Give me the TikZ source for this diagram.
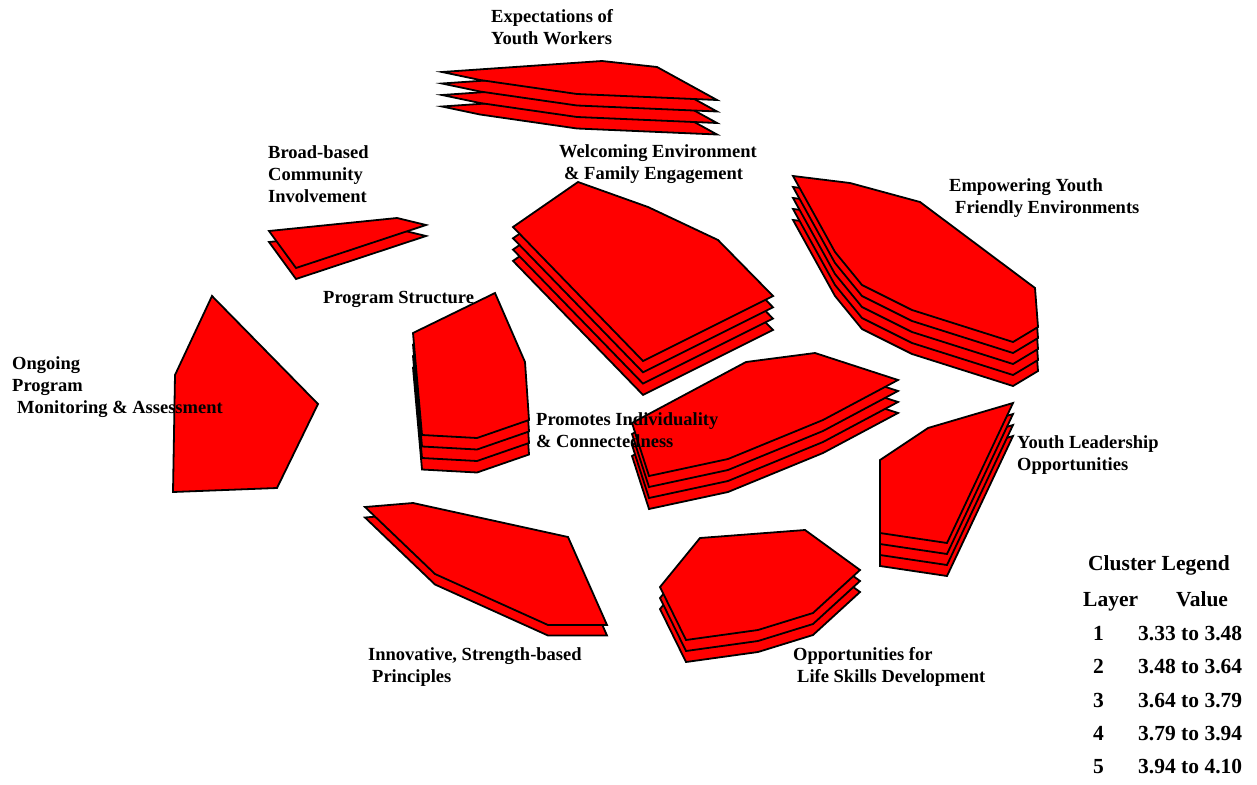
\documentclass[tikz,border=0pt]{standalone}
\usepackage{fontspec}
\setmainfont{Liberation Serif}
\usepackage{tikz}

\tikzset{
  layer/.style={draw=black, fill=red, line width=1.8pt},
  lbl/.style={anchor=base west, inner sep=0pt, align=left, font=\fontsize{18.5}{22}\selectfont\bfseries},
  legendlbl/.style={lbl, font=\fontsize{21.5}{26}\selectfont\bfseries}
}

% draws #1 copies of the polygon #3, each one #2 lower than the one above
\newcommand{\clusterlayers}[3]{%
  \foreach \k in {#1,...,1}{%
    \draw[layer, yshift={-(\k-1)*#2}] #3 -- cycle;}}

\begin{document}
\begin{tikzpicture}[x=1pt, y=-1pt]
            \useasboundingbox (0,0) rectangle (1257,784);

            % clusters
            \clusterlayers{4}{11.5}{(442,72) -- (602,61) -- (657,67) -- (717,100) -- (577,94) -- (480,80)}
            \clusterlayers{2}{11}{(269,231) -- (397,218) -- (426,225) -- (296,268)}
            \clusterlayers{4}{11.3}{(513,227) -- (578,182) -- (648,207) -- (718,240) -- (773,296) -- (643,361)}
            \clusterlayers{5}{11}{(793,176) -- (850,183) -- (920,202) -- (1035,288) -- (1038,327) -- (1013,342) -- (912,310) -- (862,285) -- (835,252)}
            \clusterlayers{4}{11.5}{(413,333) -- (495,293) -- (525,362) -- (529,420) -- (477,438) -- (422,435)}
            \clusterlayers{4}{11}{(632,423) -- (746,362) -- (815,353) -- (898,380) -- (823,420) -- (728,459) -- (649,476)}
            \clusterlayers{4}{11}{(880,460) -- (928,428) -- (1013,403) -- (947,543) -- (880,533)}
            \clusterlayers{1}{0}{(212,296) -- (318,404) -- (277,488) -- (173,492) -- (175,375)}
            \clusterlayers{2}{10.5}{(365,507) -- (413,503) -- (568,537) -- (607,625) -- (548,625) -- (435,574)}
            \clusterlayers{3}{11}{(660,587) -- (700,538) -- (805,530) -- (860,570) -- (813,613) -- (758,630) -- (686,640)}

            % cluster names (placed at the baseline of their last line)
            \node[lbl] (expect) at (491,45) {Expectations of\\Youth Workers};
            \node[lbl] (broad) at (268,202) {Broad-based\\Community\\Involvement};
            \node[lbl] (welcome) at (559,179) {Welcoming Environment\\\hspace*{5pt}\& Family Engagement};
            \node[lbl] (empower) at (949,213) {Empowering Youth\\\hspace*{6pt}Friendly Environments};
            \node[lbl] (structure) at (323,303) {Program Structure};
            \node[lbl] (ongoing) at (12,413) {Ongoing\\Program\\\hspace*{5pt}Monitoring \& Assessment};
            \node[lbl] (promotes) at (536,447) {Promotes Individuality\\\& Connectedness};
            \node[lbl] (leader) at (1017,470) {Youth Leadership\\Opportunities};
            \node[lbl] (innov) at (368,682) {Innovative, Strength-based\\\hspace*{4pt}Principles};
            \node[lbl] (life) at (793,682) {Opportunities for\\\hspace*{4pt}Life Skills Development};

            % legend
            \node[legendlbl] (legend) at (1088,570) {Cluster Legend};
            \node[legendlbl] (layerhead) at (1083,606) {Layer};
            \node[legendlbl] (valuehead) at (1176,606) {Value};
            \node[legendlbl] (l1) at (1093,640) {1};
            \node[legendlbl] (v1) at (1138,640) {3.33 to 3.48};
            \node[legendlbl] (l2) at (1093,673) {2};
            \node[legendlbl] (v2) at (1138,673) {3.48 to 3.64};
            \node[legendlbl] (l3) at (1093,707) {3};
            \node[legendlbl] (v3) at (1138,707) {3.64 to 3.79};
            \node[legendlbl] (l4) at (1093,740) {4};
            \node[legendlbl] (v4) at (1138,740) {3.79 to 3.94};
            \node[legendlbl] (l5) at (1093,773) {5};
            \node[legendlbl] (v5) at (1138,773) {3.94 to 4.10};
        \end{tikzpicture}
\end{document}
